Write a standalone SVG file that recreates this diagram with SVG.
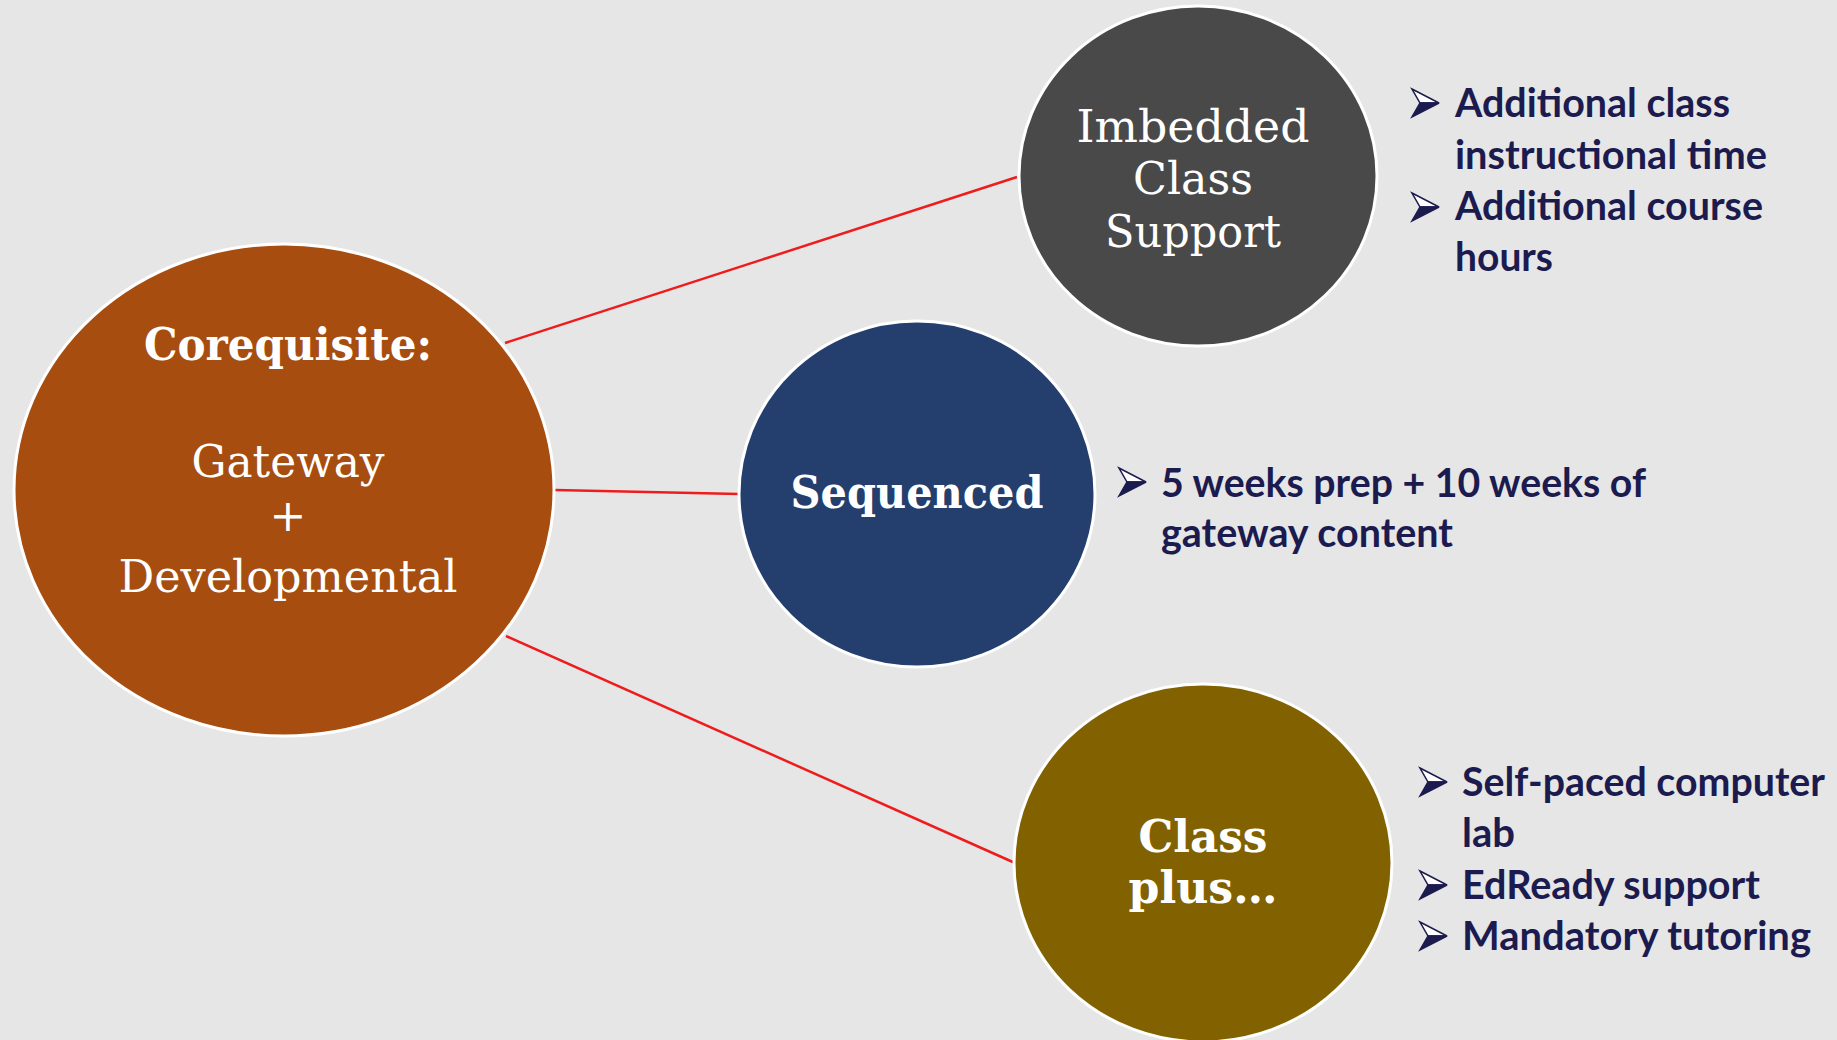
<svg xmlns="http://www.w3.org/2000/svg" width="1837" height="1040" viewBox="0 0 1837 1040">
<style>
.node{stroke:#ffffff;stroke-width:3}
.nt{fill:#ffffff;font-family:"DejaVu Serif","Liberation Serif",serif;text-anchor:middle}
.b{font-weight:bold}
.bt{fill:#1c1b4f;font-family:Lato,"Liberation Sans",sans-serif;font-weight:bold;font-size:40px}
.con{stroke:#ee1c1c;stroke-width:2.5;fill:none}
</style>
<defs>
<g id="arr">
<polygon points="0,0 27,14 8,14" fill="#ffffff" stroke="#1c1b4f" stroke-width="1.5" stroke-linejoin="miter"/>
<polygon points="8,14 27,14 0,28" fill="#1c1b4f" stroke="#1c1b4f" stroke-width="1.5"/>
</g>
</defs>
<rect width="1837" height="1040" fill="#e6e6e6"/>
<g id="connectors">
<line class="con" x1="505" y1="343" x2="1017" y2="177"/>
<line class="con" x1="555" y1="490" x2="739" y2="494"/>
<line class="con" x1="506" y1="636" x2="1015" y2="863"/>
</g>
<g id="corequisite">
<ellipse class="node" cx="284" cy="490" rx="270" ry="246" fill="#a64d0f"/>
<text class="nt b" x="288" y="360" font-size="44" textLength="288" lengthAdjust="spacingAndGlyphs">Corequisite:</text>
<text class="nt" x="288" y="477" font-size="44" textLength="193" lengthAdjust="spacingAndGlyphs">Gateway</text>
<text class="nt" x="288" y="531" font-size="44">+</text>
<text class="nt" x="288" y="592" font-size="44" textLength="339" lengthAdjust="spacingAndGlyphs">Developmental</text>
</g>
<g id="imbedded">
<ellipse class="node" cx="1198" cy="176" rx="179" ry="170" fill="#494949"/>
<text class="nt" x="1193" y="142" font-size="44" textLength="233" lengthAdjust="spacingAndGlyphs">Imbedded</text>
<text class="nt" x="1193" y="194" font-size="44" textLength="120" lengthAdjust="spacingAndGlyphs">Class</text>
<text class="nt" x="1193" y="247" font-size="44" textLength="176" lengthAdjust="spacingAndGlyphs">Support</text>
</g>
<g id="sequenced">
<ellipse class="node" cx="917" cy="494" rx="178" ry="173" fill="#243f6e"/>
<text class="nt b" x="917" y="508" font-size="44" textLength="253" lengthAdjust="spacingAndGlyphs">Sequenced</text>
</g>
<g id="classplus">
<ellipse class="node" cx="1203" cy="863" rx="189" ry="179" fill="#826200"/>
<text class="nt b" x="1203" y="852" font-size="44" textLength="129" lengthAdjust="spacingAndGlyphs">Class</text>
<text class="nt b" x="1203" y="903" font-size="44" textLength="149" lengthAdjust="spacingAndGlyphs">plus…</text>
</g>
<g id="imbedded-notes">
<use href="#arr" x="1412" y="89"/>
<use href="#arr" x="1412" y="193"/>
<text class="bt" x="1455" y="117" textLength="275" lengthAdjust="spacingAndGlyphs">Additional class</text>
<text class="bt" x="1455" y="169" textLength="312" lengthAdjust="spacingAndGlyphs">instructional time</text>
<text class="bt" x="1455" y="220" textLength="308" lengthAdjust="spacingAndGlyphs">Additional course</text>
<text class="bt" x="1455" y="271" textLength="98" lengthAdjust="spacingAndGlyphs">hours</text>
</g>
<g id="sequenced-notes">
<use href="#arr" x="1119" y="468"/>
<text class="bt" x="1161" y="497" textLength="485" lengthAdjust="spacingAndGlyphs">5 weeks prep + 10 weeks of</text>
<text class="bt" x="1161" y="547" textLength="292" lengthAdjust="spacingAndGlyphs">gateway content</text>
</g>
<g id="classplus-notes">
<use href="#arr" x="1420" y="768"/>
<use href="#arr" x="1420" y="871"/>
<use href="#arr" x="1420" y="922"/>
<text class="bt" x="1462" y="796" textLength="363" lengthAdjust="spacingAndGlyphs">Self-paced computer</text>
<text class="bt" x="1462" y="847" textLength="53" lengthAdjust="spacingAndGlyphs">lab</text>
<text class="bt" x="1462" y="899" textLength="298" lengthAdjust="spacingAndGlyphs">EdReady support</text>
<text class="bt" x="1462" y="950" textLength="349" lengthAdjust="spacingAndGlyphs">Mandatory tutoring</text>
</g>
</svg>
